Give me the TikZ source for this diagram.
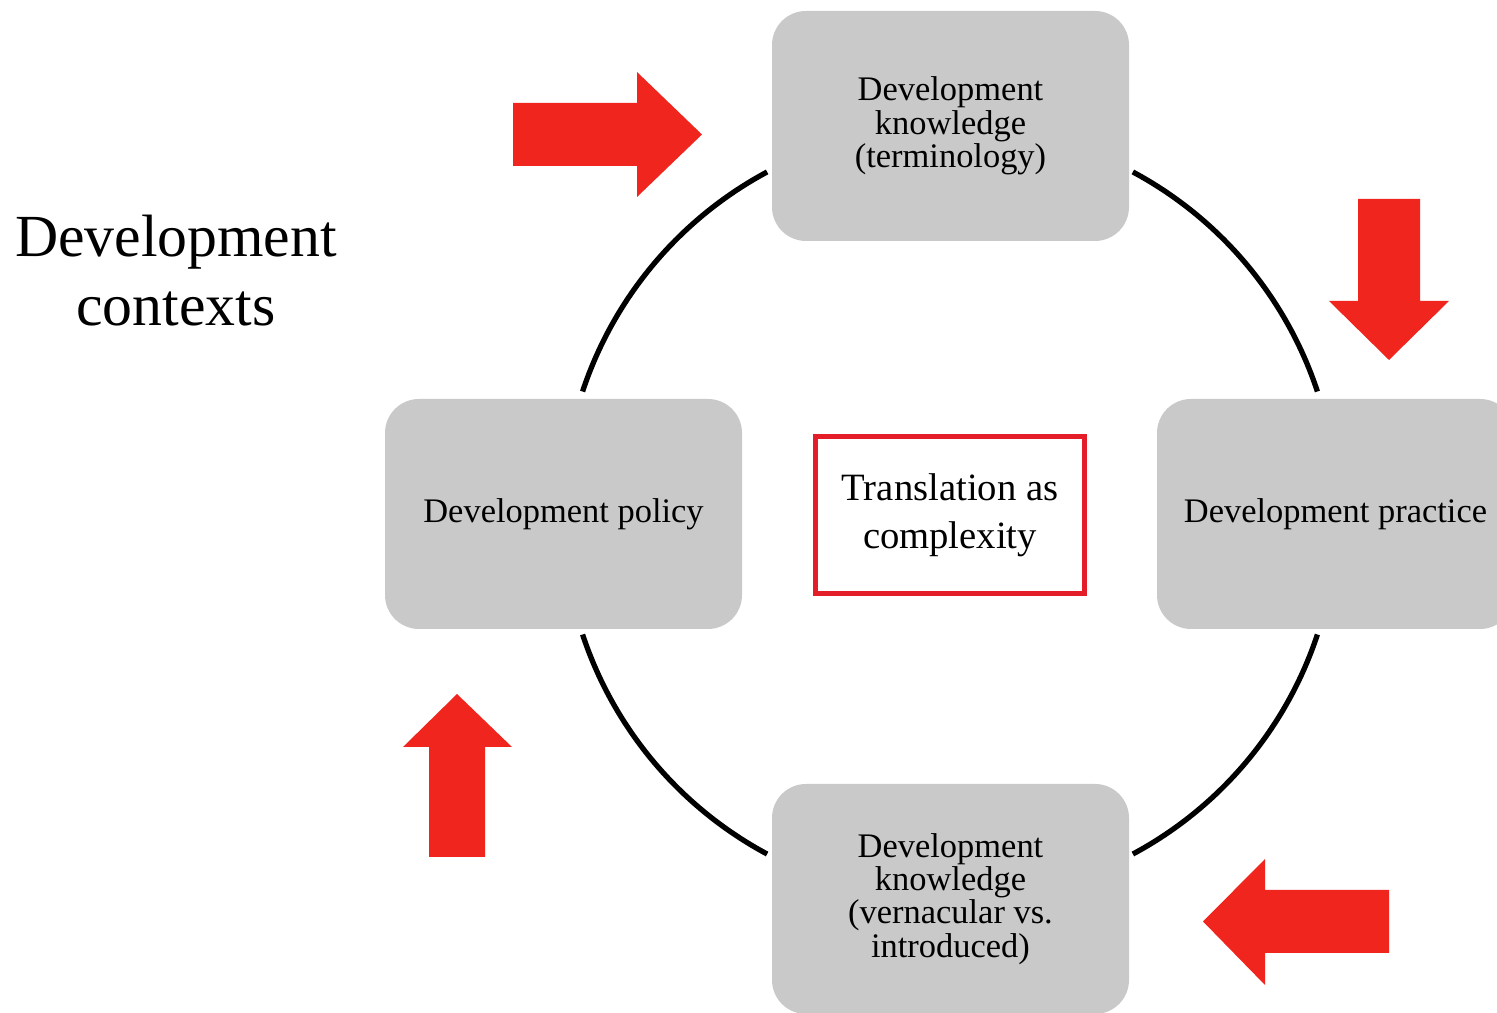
\documentclass[tikz,border=0pt]{standalone}
\usepackage{fontspec}
\setmainfont{Liberation Serif}
\definecolor{boxgray}{RGB}{201,201,201}
\definecolor{arrowred}{RGB}{240,38,30}
\definecolor{framered}{RGB}{228,30,40}

\begin{document}
\begin{tikzpicture}[
  stage/.style={fill=boxgray, rounded corners=0.34cm, minimum width=3.57cm,
    minimum height=2.30cm, align=center, inner sep=2pt,
    font=\fontsize{9.8}{9.5}\selectfont},
  core/.style={draw=framered, line width=1.4pt, fill=white, minimum width=2.69cm,
    minimum height=1.57cm, align=center, font=\fontsize{11}{13.6}\selectfont},
  ring/.style={line width=1.5pt}]
  \useasboundingbox (0,0) rectangle (14.97,10.13);
  \coordinate (c) at (9.50,5.00);

  \node[align=center, font=\fontsize{17}{19.6}\selectfont] (title) at (1.76,7.42) {Development\\contexts};

  \node[stage] (knowT) at (9.505,8.87) {Development\\knowledge\\(terminology)};
  \node[stage] (policy) at (5.635,4.99) {Development policy};
  \node[stage] (practice) at (13.355,4.99) {Development practice};
  \node[stage] (knowB) at (9.505,1.14) {Development\\knowledge\\(vernacular vs.\\introduced)};
  \node[core] (trans) at (9.50,4.98) {Translation as\\complexity};

  % circle pieces between the boxes
  \foreach \s/\e in {18.3/61.8, 118.2/161.7, 198.3/241.8, 298.2/341.7}
    \draw[ring] (c) ++(\s:3.87) arc (\s:\e:3.87);

  % red block arrows
  \fill[arrowred] (5.13,9.10) -- (6.37,9.10) -- (6.37,9.41) -- (7.02,8.785) -- (6.37,8.16) -- (6.37,8.47) -- (5.13,8.47) -- cycle;
  \fill[arrowred] (13.58,8.14) -- (14.20,8.14) -- (14.20,7.12) -- (14.49,7.12) -- (13.89,6.53) -- (13.29,7.12) -- (13.58,7.12) -- cycle;
  \fill[arrowred] (4.29,1.56) -- (4.85,1.56) -- (4.85,2.66) -- (5.12,2.66) -- (4.57,3.19) -- (4.03,2.66) -- (4.29,2.66) -- cycle;
  \fill[arrowred] (13.89,1.23) -- (12.65,1.23) -- (12.65,1.54) -- (12.03,0.915) -- (12.65,0.28) -- (12.65,0.60) -- (13.89,0.60) -- cycle;
\end{tikzpicture}
\end{document}
